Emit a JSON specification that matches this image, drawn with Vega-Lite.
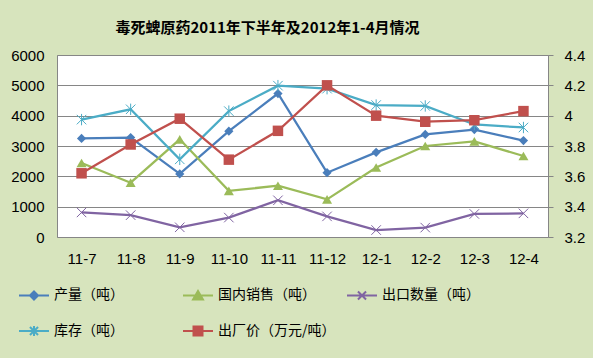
{
  "$schema": "https://vega.github.io/schema/vega-lite/v6.json",
  "width": 491,
  "height": 182,
  "autosize": {"type": "none"},
  "padding": {"left": 57, "top": 55, "right": 45, "bottom": 121},
  "background": "#D7E4BD",
  "title": {
    "text": "毒死蜱原药2011年下半年及2012年1-4月情况",
    "font": "Noto Sans CJK SC",
    "fontSize": 15,
    "fontWeight": "bold",
    "color": "#000000",
    "anchor": "middle",
    "dx": -35,
    "offset": 12
  },
  "config": {
    "view": {"stroke": "#868686", "fill": "#ffffff"},
    "axis": {
      "labelFont": "Liberation Sans",
      "labelFontSize": 15,
      "labelColor": "#000000",
      "grid": false,
      "domain": false,
      "ticks": false,
      "tickSize": 0
    },
    "legend": {
      "orient": "none",
      "direction": "horizontal",
      "legendX": -39,
      "legendY": 224,
      "columns": 3,
      "gridAlign": "all",
      "columnPadding": 7,
      "rowPadding": 11,
      "padding": 0,
      "labelFont": "Noto Sans CJK SC",
      "labelFontSize": 14,
      "labelColor": "#000000",
      "labelOffset": 4,
      "labelLimit": 300,
      "symbolSize": 900,
      "symbolStrokeWidth": 2,
      "symbolOpacity": 1
    }
  },
  "data": {
    "values": [
      {"month": "11-7", "series": "产量（吨）", "value": 3250},
      {"month": "11-8", "series": "产量（吨）", "value": 3280},
      {"month": "11-9", "series": "产量（吨）", "value": 2080},
      {"month": "11-10", "series": "产量（吨）", "value": 3490},
      {"month": "11-11", "series": "产量（吨）", "value": 4730},
      {"month": "11-12", "series": "产量（吨）", "value": 2120},
      {"month": "12-1", "series": "产量（吨）", "value": 2790},
      {"month": "12-2", "series": "产量（吨）", "value": 3380},
      {"month": "12-3", "series": "产量（吨）", "value": 3540},
      {"month": "12-4", "series": "产量（吨）", "value": 3180},
      {"month": "11-7", "series": "国内销售（吨）", "value": 2440},
      {"month": "11-8", "series": "国内销售（吨）", "value": 1790},
      {"month": "11-9", "series": "国内销售（吨）", "value": 3220},
      {"month": "11-10", "series": "国内销售（吨）", "value": 1520},
      {"month": "11-11", "series": "国内销售（吨）", "value": 1690},
      {"month": "11-12", "series": "国内销售（吨）", "value": 1240},
      {"month": "12-1", "series": "国内销售（吨）", "value": 2290},
      {"month": "12-2", "series": "国内销售（吨）", "value": 3000},
      {"month": "12-3", "series": "国内销售（吨）", "value": 3150},
      {"month": "12-4", "series": "国内销售（吨）", "value": 2670},
      {"month": "11-7", "series": "出口数量（吨）", "value": 810},
      {"month": "11-8", "series": "出口数量（吨）", "value": 720},
      {"month": "11-9", "series": "出口数量（吨）", "value": 320},
      {"month": "11-10", "series": "出口数量（吨）", "value": 640},
      {"month": "11-11", "series": "出口数量（吨）", "value": 1210},
      {"month": "11-12", "series": "出口数量（吨）", "value": 680},
      {"month": "12-1", "series": "出口数量（吨）", "value": 230},
      {"month": "12-2", "series": "出口数量（吨）", "value": 310},
      {"month": "12-3", "series": "出口数量（吨）", "value": 760},
      {"month": "12-4", "series": "出口数量（吨）", "value": 780},
      {"month": "11-7", "series": "库存（吨）", "value": 3870},
      {"month": "11-8", "series": "库存（吨）", "value": 4210},
      {"month": "11-9", "series": "库存（吨）", "value": 2560},
      {"month": "11-10", "series": "库存（吨）", "value": 4150},
      {"month": "11-11", "series": "库存（吨）", "value": 4990},
      {"month": "11-12", "series": "库存（吨）", "value": 4890},
      {"month": "12-1", "series": "库存（吨）", "value": 4350},
      {"month": "12-2", "series": "库存（吨）", "value": 4320},
      {"month": "12-3", "series": "库存（吨）", "value": 3710},
      {"month": "12-4", "series": "库存（吨）", "value": 3610},
      {"month": "11-7", "series": "出厂价（万元/吨）", "value": 3.62},
      {"month": "11-8", "series": "出厂价（万元/吨）", "value": 3.81},
      {"month": "11-9", "series": "出厂价（万元/吨）", "value": 3.98},
      {"month": "11-10", "series": "出厂价（万元/吨）", "value": 3.71},
      {"month": "11-11", "series": "出厂价（万元/吨）", "value": 3.90},
      {"month": "11-12", "series": "出厂价（万元/吨）", "value": 4.20},
      {"month": "12-1", "series": "出厂价（万元/吨）", "value": 4.00},
      {"month": "12-2", "series": "出厂价（万元/吨）", "value": 3.96},
      {"month": "12-3", "series": "出厂价（万元/吨）", "value": 3.97},
      {"month": "12-4", "series": "出厂价（万元/吨）", "value": 4.03}
    ]
  },
  "encoding": {
    "x": {
      "field": "month",
      "type": "ordinal",
      "sort": null,
      "scale": {"type": "point", "padding": 0.5},
      "axis": {"labelAngle": 0, "labelPadding": 14, "title": null}
    },
    "color": {
      "field": "series",
      "type": "nominal",
      "scale": {
        "domain": ["产量（吨）", "国内销售（吨）", "出口数量（吨）", "库存（吨）", "出厂价（万元/吨）"],
        "range": ["#4A7EBB", "#9BBB59", "#8064A2", "#4BACC6", "#C0504D"]
      },
      "legend": {
        "title": null,
        "direction": "horizontal",
        "encode": {
          "symbols": {
            "update": {
              "fill": {"scale": "color", "field": "value"},
              "stroke": {"scale": "color", "field": "value"},
              "strokeWidth": {"value": 2},
              "size": {"value": 900},
              "opacity": {"value": 1}
            }
          }
        }
      }
    }
  },
  "layer": [
    {
      "transform": [{"filter": "datum.series != '出厂价（万元/吨）'"}],
      "encoding": {
        "y": {
          "field": "value",
          "type": "quantitative",
          "scale": {"domain": [0, 6000], "nice": false, "zero": true},
          "axis": {
            "orient": "left",
            "title": null,
            "values": [0, 1000, 2000, 3000, 4000, 5000, 6000],
            "format": "d",
            "grid": true,
            "gridColor": "#868686",
            "gridWidth": 1,
            "labelPadding": 13
          }
        }
      },
      "layer": [
        {
          "mark": {"type": "line", "strokeWidth": 2.25},
          "encoding": {"detail": {"field": "series"}}
        },
        {
          "transform": [{"filter": "datum.series == '产量（吨）'"}],
          "mark": {"type": "point", "shape": "diamond", "filled": true, "size": 85, "opacity": 1}
        },
        {
          "transform": [{"filter": "datum.series == '国内销售（吨）'"}],
          "mark": {"type": "point", "shape": "triangle-up", "filled": true, "size": 100, "opacity": 1}
        },
        {
          "transform": [{"filter": "datum.series == '出口数量（吨）'"}],
          "mark": {"type": "point", "shape": "M-1,-1L1,1M-1,1L1,-1", "filled": false, "size": 90, "strokeWidth": 1, "opacity": 1}
        },
        {
          "transform": [{"filter": "datum.series == '库存（吨）'"}],
          "mark": {"type": "point", "shape": "M-1,-1L1,1M-1,1L1,-1M0,-1.2L0,1.2", "filled": false, "size": 90, "strokeWidth": 1, "opacity": 1}
        },
        {
          "transform": [{"filter": "datum.series == 'none'"}],
          "mark": {"type": "point", "filled": true, "opacity": 1},
          "encoding": {
            "shape": {
              "field": "series",
              "type": "nominal",
              "scale": {
                "domain": ["产量（吨）", "国内销售（吨）", "出口数量（吨）", "库存（吨）", "出厂价（万元/吨）"],
                "range": [
                  "M-1,0L1,0M0,-0.27L0.27,0L0,0.27L-0.27,0Z",
                  "M-1,0L1,0M0,-0.3L0.33,0.27L-0.33,0.27Z",
                  "M-1,0L1,0M-0.27,-0.27L0.27,0.27M-0.27,0.27L0.27,-0.27",
                  "M-1,0L1,0M-0.27,-0.27L0.27,0.27M-0.27,0.27L0.27,-0.27M0,-0.33L0,0.33",
                  "M-1,0L1,0M-0.3,-0.3L0.3,-0.3L0.3,0.3L-0.3,0.3Z"
                ]
              },
              "legend": {
                "title": null,
                "direction": "horizontal",
                "encode": {
                  "symbols": {
                    "update": {
                      "fill": {"scale": "color", "field": "value"},
                      "stroke": {"scale": "color", "field": "value"},
                      "strokeWidth": {"value": 2},
                      "size": {"value": 900},
                      "opacity": {"value": 1}
                    }
                  }
                }
              }
            }
          }
        }
      ]
    },
    {
      "transform": [{"filter": "datum.series == '出厂价（万元/吨）'"}],
      "encoding": {
        "y": {
          "field": "value",
          "type": "quantitative",
          "scale": {"domain": [3.2, 4.4], "nice": false, "zero": false},
          "axis": {
            "orient": "right",
            "title": null,
            "values": [3.2, 3.4, 3.6, 3.8, 4.0, 4.2, 4.4],
            "format": "~g",
            "grid": false,
            "ticks": true,
            "tickSize": 5,
            "tickColor": "#868686",
            "labelPadding": 11
          }
        }
      },
      "layer": [
        {"mark": {"type": "line", "strokeWidth": 2.25}},
        {"mark": {"type": "point", "shape": "square", "filled": true, "size": 110, "opacity": 1}}
      ]
    }
  ],
  "resolve": {"scale": {"y": "independent"}}
}
